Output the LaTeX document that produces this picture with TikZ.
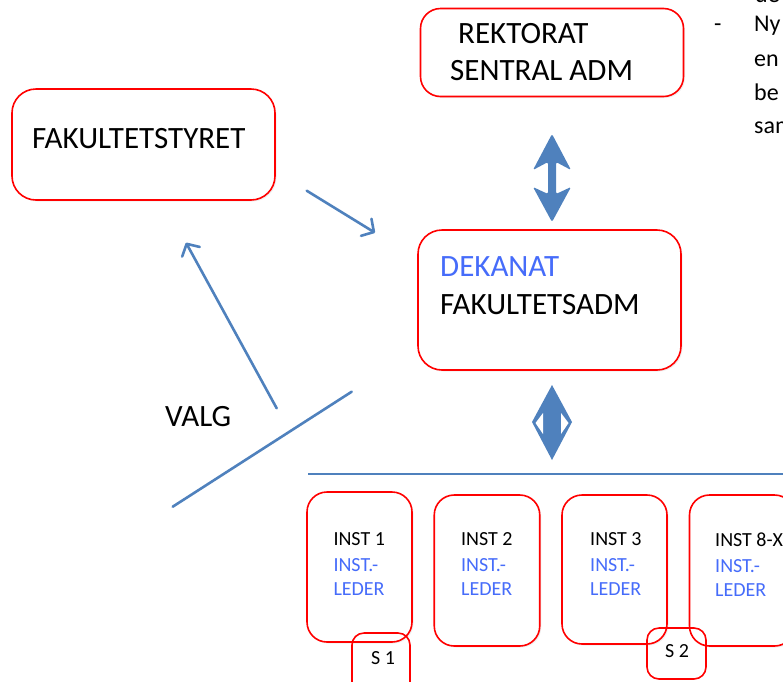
\documentclass[tikz,border=0pt]{standalone}
\usepackage{fontspec}
\setmainfont{Carlito}
\usetikzlibrary{arrows.meta,shadows}
\definecolor{abl}{RGB}{79,129,189}
\definecolor{tblue}{RGB}{70,108,250}
\tikzset{
  rbox/.style={draw=red, line width=1.6pt, rounded corners=#1, inner sep=0pt, fill=white,
    drop shadow={opacity=0.12, shadow xshift=1.5pt, shadow yshift=-1.5pt}},
  sbox/.style={draw=red, line width=1.6pt, rounded corners=12pt, inner sep=0pt},
  big/.style={font=\fontsize{31}{36}\selectfont, anchor=base west, inner sep=0pt},
  small/.style={font=\fontsize{20}{24}\selectfont, anchor=base west, inner sep=0pt},
  note/.style={font=\fontsize{24}{28}\selectfont, anchor=base west, inner sep=0pt},
  bline/.style={draw=abl, line width=2.6pt, line cap=round},
  barrow/.style={bline, -{Straight Barb[length=9pt,width=20pt,round]}},
  blk/.style={fill=abl, rounded corners=1.5pt},
}
\begin{document}
\begin{tikzpicture}[x=1pt,y=-1pt]
\useasboundingbox (0,0) rectangle (783,681);
\clip (0,0) rectangle (783,681);
% main boxes
\node[rbox=20pt, minimum width=263pt, minimum height=88pt] (rek) at (552,52.5) {};
\node[rbox=24pt, minimum width=263pt, minimum height=111pt] (fak) at (143.5,144.5) {};
\node[rbox=24pt, minimum width=263pt, minimum height=140pt] (dek) at (549.5,300) {};
% texts
\node[big] (rekA) at (458,43.3) {REKTORAT};
\node[big] (rekB) at (450,80) {SENTRAL ADM};
\node[big] (fakA) at (32,148.3) {FAKULTETSTYRET};
\node[big, text=tblue] (dekA) at (440,276.7) {DEKANAT};
\node[big] (dekB) at (440,314.3) {FAKULTETSADM};
\node[big] (valg) at (165,426) {VALG};
% institute boxes
\node[rbox=20pt, minimum width=105pt, minimum height=150pt] (i1) at (359.5,567) {};
\node[rbox=20pt, minimum width=105.5pt, minimum height=151pt] (i2) at (487,570.5) {};
\node[rbox=20pt, minimum width=105pt, minimum height=149pt] (i3) at (614.5,569.5) {};
\node[rbox=20pt, minimum width=105pt, minimum height=151pt] (i4) at (742,570.5) {};
\node[small] (i1a) at (333.3,545) {INST 1};
\node[small, text=tblue] (i1b) at (333.3,571.7) {INST.-};
\node[small, text=tblue] (i1c) at (333.3,595) {LEDER};
\node[small] (i2a) at (461,545) {INST 2};
\node[small, text=tblue] (i2b) at (461,571.7) {INST.-};
\node[small, text=tblue] (i2c) at (461,595) {LEDER};
\node[small] (i3a) at (590,545) {INST 3};
\node[small, text=tblue] (i3b) at (590,571.7) {INST.-};
\node[small, text=tblue] (i3c) at (590,595) {LEDER};
\node[small] (i4a) at (715,546.7) {INST 8-X};
\node[small, text=tblue] (i4b) at (715,572.7) {INST.-};
\node[small, text=tblue] (i4c) at (715,596) {LEDER};
% S boxes
\node[sbox, minimum width=58pt, minimum height=62pt] (s1) at (381,664) {};
\node[sbox, minimum width=59pt, minimum height=51pt] (s2) at (676.5,653.5) {};
\node[small] (s1t) at (371,664.3) {S 1};
\node[small] (s2t) at (665,657.3) {S 2};
% top-right note (cut off by the picture's edge, as in the reference)
\node[note] (n0) at (755,2) {de};
\node[note] (nd) at (714,31.7) {-};
\node[note] (n1) at (754,31.7) {Ny};
\node[note] (n2) at (754,66.7) {en};
\node[note] (n3) at (754,100) {be};
\node[note] (n4) at (754,133.3) {sam};
% connectors
\coordinate (a1) at (306.7,190.7);
\coordinate (a2) at (375,232.7);
\draw[barrow] (a1) -- (a2);
\coordinate (v1) at (276.7,408.3);
\coordinate (v2) at (186,242.7);
\draw[barrow] (v1) -- (v2);
\coordinate (l1) at (351.7,391.7);
\coordinate (l2) at (172.7,506.7);
\draw[bline] (l1) -- (l2);
\coordinate (h1) at (308.3,474);
\coordinate (h2) at (790,474);
\draw[bline, line cap=butt] (h1) -- (h2);
% double block arrow (rektorat <-> dekanat)
\fill[blk] (552,134) -- (571,170) -- (556,162) -- (556,194) -- (571,187)
  -- (552,222) -- (533,187) -- (548,194) -- (548,162) -- (533,170) -- cycle;
% diamond double arrow (dekanat <-> institutes)
\fill[abl] (552,385) -- (572,422) -- (552,460) -- (532,422) -- cycle;
\fill[white] (543,413) -- (535.5,423) -- (543,434) -- cycle;
\fill[white] (561,413) -- (568.5,423) -- (561,434) -- cycle;
\end{tikzpicture}
\end{document}
